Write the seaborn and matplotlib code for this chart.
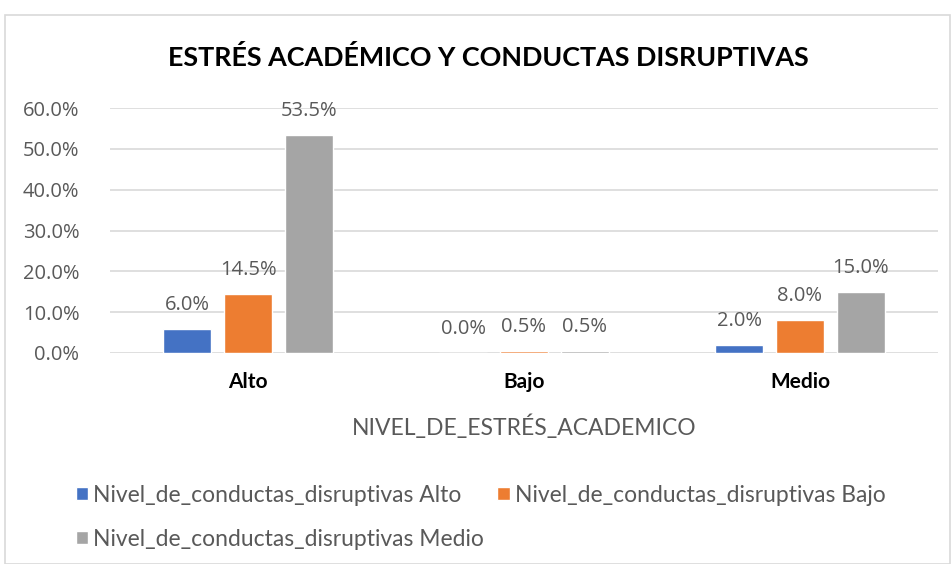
import matplotlib
matplotlib.use("Agg")
import matplotlib.pyplot as plt
import seaborn as sns
import pandas as pd
from matplotlib.patches import Rectangle, Patch

categories = ["Alto", "Bajo", "Medio"]
series = ["Nivel_de_conductas_disruptivas Alto",
          "Nivel_de_conductas_disruptivas Bajo",
          "Nivel_de_conductas_disruptivas Medio"]
vals_alto = [6.0, 0.0, 2.0]
vals_bajo = [14.5, 0.5, 8.0]
vals_medio = [53.5, 0.5, 15.0]
yticks = [0, 10, 20, 30, 40, 50, 60]
colors = ["#4472C4", "#ED7D31", "#A5A5A5"]

rows = []
for s, vals in zip(series, [vals_alto, vals_bajo, vals_medio]):
    for c, v in zip(categories, vals):
        rows.append({"cat": c, "serie": s, "val": v})
df = pd.DataFrame(rows)

sns.set_theme(style="white")
FONT = ["Lato", "DejaVu Sans"]
NUMFONT = ["Open Sans", "DejaVu Sans"]
plt.rcParams["font.family"] = FONT
GRAY = "#595959"

fig = plt.figure(figsize=(9.52, 5.64), dpi=100)
fig.patches.append(Rectangle((5/952, 0), 1 - 7/952, 1 - 15/564, transform=fig.transFigure,
                             fill=False, edgecolor="#d9d9d9", linewidth=1.2))
ax = fig.add_axes([110/952, 1 - 353/564, 828/952, 245/564])

sns.barplot(data=df, x="cat", y="val", hue="serie", order=categories, hue_order=series,
            palette=colors, width=0.66, gap=0.21, ax=ax, legend=False, saturation=1)

ax.set_ylim(0, 60)
ax.set_xlim(-0.5, 2.5)
ax.set_yticks(yticks)
ax.set_yticklabels([f"{t:.1f}%" for t in yticks], fontsize=14.5, color=GRAY, family=NUMFONT)
ax.yaxis.grid(True, color="#d9d9d9", linewidth=1.2)
ax.set_axisbelow(True)
for sp in ax.spines.values():
    sp.set_visible(False)
ax.tick_params(axis="both", length=0)
ax.tick_params(axis="y", pad=22)
ax.set_xticks(range(len(categories)))
ax.set_xticklabels(categories, fontsize=15, fontweight="bold", color="black")
ax.tick_params(axis="x", pad=14)
ax.set_ylabel("")
ax.set_xlabel("NIVEL_DE_ESTRÉS_ACADEMICO", fontsize=16.5, color=GRAY, labelpad=16)

for cont in ax.containers:
    ax.bar_label(cont, labels=[f"{v:.1f}%" for v in cont.datavalues], padding=10,
                 fontsize=14.5, color=GRAY, family=NUMFONT)

fig.text(488.5/952, 1 - 57/564, "ESTRÉS ACADÉMICO Y CONDUCTAS DISRUPTIVAS", ha="center", va="center",
         fontsize=19.4, fontweight="bold", color="black")

h = [Patch(facecolor=c) for c in colors]
order = [0, 2, 1]
fig.legend([h[i] for i in order], [series[i] for i in order], ncol=2, frameon=False,
           loc="upper left", bbox_to_anchor=(55/952, 1 - 464/564), fontsize=16.5,
           labelcolor=GRAY, handlelength=0.55, handleheight=0.55, handletextpad=0.2,
           columnspacing=0.6, labelspacing=1.0)

fig.savefig("out.png", dpi=100)
